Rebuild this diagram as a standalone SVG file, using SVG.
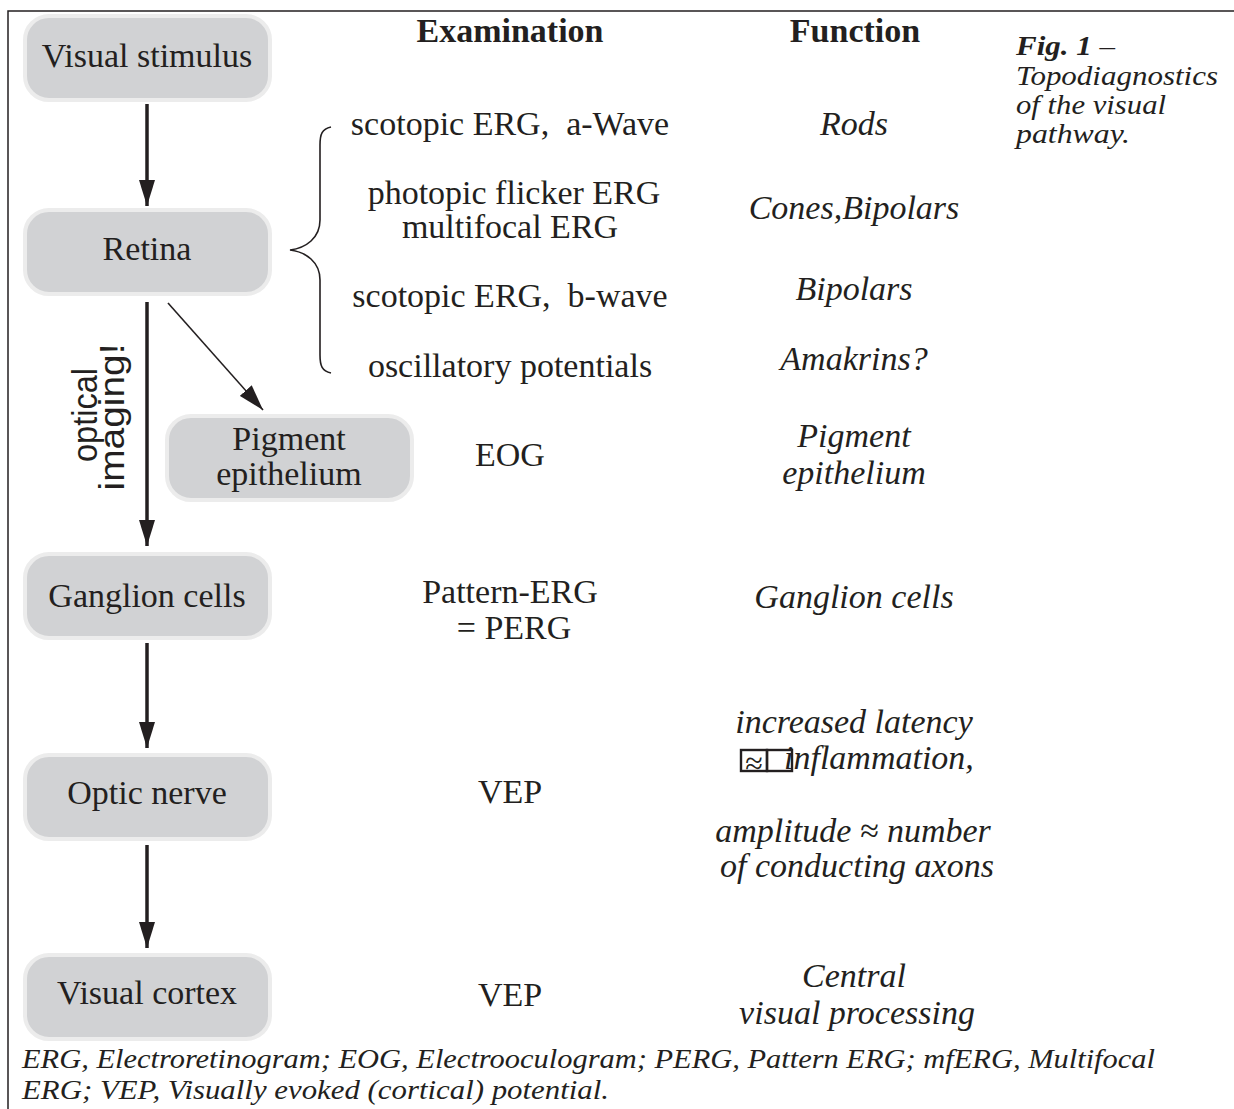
<svg xmlns="http://www.w3.org/2000/svg" width="1234" height="1109" viewBox="0 0 1234 1109">
<style>
.node rect{fill:#d1d2d4;stroke:#ececec;stroke-width:4}
.nt{font-family:"Liberation Serif",serif;font-size:34px;fill:#231f20;text-anchor:middle}
.ex{font-family:"Liberation Serif",serif;font-size:34px;fill:#231f20;text-anchor:middle}
.fn{font-family:"Liberation Serif",serif;font-size:34px;font-style:italic;fill:#231f20;text-anchor:middle}
.hd{font-family:"Liberation Serif",serif;font-size:34px;font-weight:bold;fill:#231f20;text-anchor:middle}
.cap{font-family:"Liberation Serif",serif;font-size:28px;font-style:italic;fill:#231f20}
.thick{stroke:#231f20;stroke-width:3.5;fill:none}
.thin{stroke:#231f20;stroke-width:1.6;fill:none}
.rot{font-family:"Liberation Sans",Arial,sans-serif;font-size:35px;fill:#231f20;text-anchor:middle}
</style>
<defs>
<marker id="ah2" markerUnits="userSpaceOnUse" markerWidth="26" markerHeight="16" refX="26" refY="8" orient="auto" viewBox="0 0 26 16">
<path d="M0,0 L26,8 L0,16 Z" fill="#231f20"/>
</marker>
</defs>
<rect width="1234" height="1109" fill="#ffffff"/>
<path d="M8,1109 V11 H1234" stroke="#231f20" stroke-width="1.5" fill="none"/>

<g id="node-visual-stimulus" class="node"><rect x="25" y="16" width="245" height="84" rx="24"/><text class="nt" x="147" y="67">Visual stimulus</text></g>
<g id="node-retina" class="node"><rect x="25" y="210" width="245" height="84" rx="24"/><text class="nt" x="147" y="260">Retina</text></g>
<g id="node-pigment" class="node"><rect x="167" y="416" width="245" height="84" rx="24"/><text class="nt" x="289" y="450">Pigment</text><text class="nt" x="289" y="485">epithelium</text></g>
<g id="node-ganglion" class="node"><rect x="25" y="554" width="245" height="84" rx="24"/><text class="nt" x="147" y="607">Ganglion cells</text></g>
<g id="node-optic" class="node"><rect x="25" y="755" width="245" height="84" rx="24"/><text class="nt" x="147" y="804">Optic nerve</text></g>
<g id="node-cortex" class="node"><rect x="25" y="955" width="245" height="84" rx="24"/><text class="nt" x="147" y="1004">Visual cortex</text></g>

<g id="connectors">
<line class="thick" x1="147" y1="104" x2="147" y2="206" marker-end="url(#ah2)"/>
<line class="thick" x1="147" y1="302" x2="147" y2="546" marker-end="url(#ah2)"/>
<line class="thick" x1="147" y1="643" x2="147" y2="748" marker-end="url(#ah2)"/>
<line class="thick" x1="147" y1="845" x2="147" y2="948" marker-end="url(#ah2)"/>
<line class="thin" x1="168" y1="303" x2="263" y2="410" marker-end="url(#ah2)"/>
<path class="thin" d="M331,127 C322,129 320,134 320,145 L320,220 C320,238 306,248 290,250 C306,252 320,262 320,280 L320,355 C320,366 322,371 331,373"/>
</g>

<text class="rot" transform="translate(97,415) rotate(-90)" textLength="94" lengthAdjust="spacingAndGlyphs">optical</text>
<text class="rot" transform="translate(124,417) rotate(-90)" textLength="147" lengthAdjust="spacingAndGlyphs">imaging!</text>

<text class="hd" x="510" y="42">Examination</text>
<text class="hd" x="855" y="42">Function</text>

<text class="cap" x="1016" y="55" font-weight="bold" textLength="99" lengthAdjust="spacingAndGlyphs">Fig. 1 <tspan font-weight="normal">–</tspan></text>
<text class="cap" x="1016" y="85" textLength="202" lengthAdjust="spacingAndGlyphs">Topodiagnostics</text>
<text class="cap" x="1016" y="114" textLength="150" lengthAdjust="spacingAndGlyphs">of the visual</text>
<text class="cap" x="1016" y="143" textLength="114" lengthAdjust="spacingAndGlyphs">pathway.</text>

<text class="ex" x="510" y="135" xml:space="preserve">scotopic ERG,  a-Wave</text>
<text class="ex" x="514" y="204">photopic flicker ERG</text>
<text class="ex" x="510" y="238">multifocal ERG</text>
<text class="ex" x="510" y="307" xml:space="preserve">scotopic ERG,  b-wave</text>
<text class="ex" x="510" y="377">oscillatory potentials</text>
<text class="ex" x="510" y="466">EOG</text>
<text class="ex" x="510" y="603">Pattern-ERG</text>
<text class="ex" x="514" y="639">= PERG</text>
<text class="ex" x="510" y="803">VEP</text>
<text class="ex" x="510" y="1006">VEP</text>

<text class="fn" x="854" y="135">Rods</text>
<text class="fn" x="854" y="219">Cones,Bipolars</text>
<text class="fn" x="854" y="300">Bipolars</text>
<text class="fn" x="854" y="370">Amakrins?</text>
<text class="fn" x="854" y="447">Pigment</text>
<text class="fn" x="854" y="484">epithelium</text>
<text class="fn" x="854" y="608">Ganglion cells</text>
<text class="fn" x="854" y="733">increased latency</text>
<g stroke="#231f20" stroke-width="2.4" fill="none"><rect x="741" y="750" width="26" height="21"/><rect x="767" y="750" width="25" height="21"/></g>
<text class="fn" x="754" y="774" style="font-size:32px;font-style:normal">≈</text>
<text class="fn" x="784" y="769" style="text-anchor:start">inflammation,</text>
<text class="fn" x="853" y="842">amplitude ≈ number</text>
<text class="fn" x="857" y="877">of conducting axons</text>
<text class="fn" x="854" y="987">Central</text>
<text class="fn" x="857" y="1024">visual processing</text>

<text class="cap" x="22" y="1068" textLength="1133" lengthAdjust="spacingAndGlyphs">ERG, Electroretinogram; EOG, Electrooculogram; PERG, Pattern ERG; mfERG, Multifocal</text>
<text class="cap" x="22" y="1099" textLength="587" lengthAdjust="spacingAndGlyphs">ERG; VEP, Visually evoked (cortical) potential.</text>
</svg>
